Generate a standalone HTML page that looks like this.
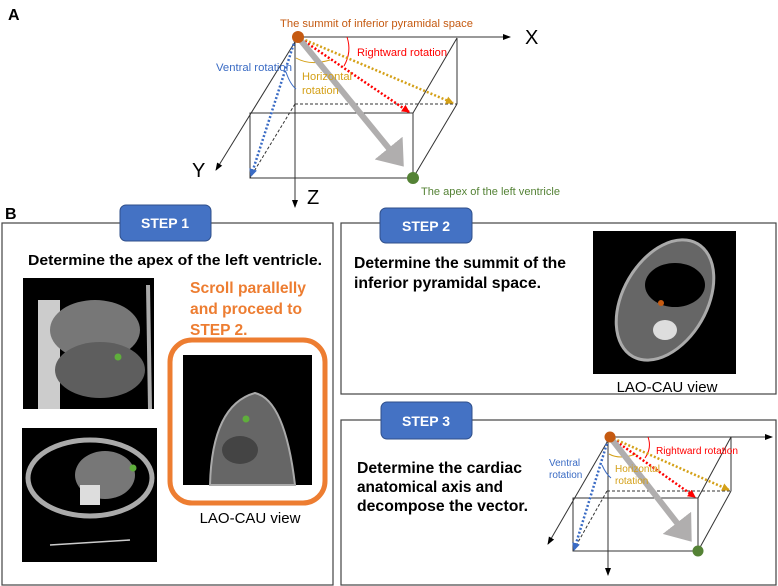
<!DOCTYPE html>
<html><head><meta charset="utf-8"><style>
html,body{margin:0;padding:0;background:#fff}
svg{display:block}
text{font-family:"Liberation Sans",Arial,sans-serif}
</style></head><body>
<svg width="778" height="586" viewBox="0 0 778 586" xmlns="http://www.w3.org/2000/svg">
<defs>
<marker id="ak" markerWidth="8" markerHeight="8" refX="7" refY="4" orient="auto" markerUnits="userSpaceOnUse"><path d="M0,1 L8,4 L0,7z" fill="#000"/></marker>
<marker id="ar" markerWidth="8" markerHeight="8" refX="7" refY="4" orient="auto" markerUnits="userSpaceOnUse"><path d="M0,0 L8,4 L0,8z" fill="#f00"/></marker>
<marker id="ag" markerWidth="8" markerHeight="8" refX="7" refY="4" orient="auto" markerUnits="userSpaceOnUse"><path d="M0,0 L8,4 L0,8z" fill="#d4a017"/></marker>
<marker id="ab" markerWidth="8" markerHeight="8" refX="7" refY="4" orient="auto" markerUnits="userSpaceOnUse"><path d="M0,0 L8,4 L0,8z" fill="#3a6bc4"/></marker>
<marker id="agr" markerWidth="6" markerHeight="6" refX="3" refY="3" orient="auto" markerUnits="strokeWidth"><path d="M0,0 L4,3 L0,6z" fill="#b0aeae"/></marker>
</defs>

<text x="8" y="20" font-size="16" font-weight="bold">A</text>
<text x="5" y="219" font-size="16" font-weight="bold">B</text>

<!-- Diagram A -->
<g stroke="#333" stroke-width="1" fill="none">
<line x1="298" y1="37" x2="510" y2="37" marker-end="url(#ak)"/>
<line x1="298" y1="37" x2="216" y2="170" marker-end="url(#ak)"/>
<line x1="295" y1="37" x2="295" y2="207" marker-end="url(#ak)"/>
<line x1="457" y1="38" x2="457" y2="104"/>
<line x1="457" y1="38" x2="413" y2="113"/>
<line x1="457" y1="104" x2="413" y2="178"/>
<line x1="295" y1="104" x2="457" y2="104" stroke-dasharray="3,2"/>
<line x1="295" y1="104" x2="250" y2="178" stroke-dasharray="3,2"/>
<rect x="250" y="113" width="163" height="65"/>
</g>
<text x="525" y="44" font-size="20">X</text>
<text x="192" y="177" font-size="20">Y</text>
<text x="307" y="204" font-size="20">Z</text>
<path d="M296,58 Q310,66 330,60" stroke="#d4a017" fill="none"/>
<path d="M347,37 Q352,52 344,66" stroke="#f00" fill="none"/>
<path d="M286,72 Q290,84 296,89" stroke="#3a6bc4" fill="none"/>
<line x1="298" y1="37" x2="453" y2="103" stroke="#d4a017" stroke-width="2.5" stroke-dasharray="2,2" marker-end="url(#ag)"/>
<line x1="298" y1="37" x2="409" y2="112" stroke="#f00" stroke-width="2.5" stroke-dasharray="2,2" marker-end="url(#ar)"/>
<line x1="295" y1="40" x2="251" y2="176" stroke="#3a6bc4" stroke-width="2.5" stroke-dasharray="2,2" marker-end="url(#ab)"/>
<line x1="298" y1="37" x2="400" y2="162" stroke="#b0aeae" stroke-width="6" marker-end="url(#agr)"/>
<circle cx="298" cy="37" r="6" fill="#c55a11"/>
<circle cx="413" cy="178" r="6" fill="#548235"/>
<text x="280" y="27" font-size="11" fill="#c55a11" textLength="193" lengthAdjust="spacingAndGlyphs">The summit of inferior pyramidal space</text>
<text x="357" y="56" font-size="11" fill="#f00" textLength="90" lengthAdjust="spacingAndGlyphs">Rightward rotation</text>
<text x="216" y="71" font-size="11" fill="#3a6bc4" textLength="76" lengthAdjust="spacingAndGlyphs">Ventral rotation</text>
<text x="302" y="80" font-size="11" fill="#d4a017" textLength="50" lengthAdjust="spacingAndGlyphs">Horizontal</text>
<text x="302" y="94" font-size="11" fill="#d4a017">rotation</text>
<text x="421" y="195" font-size="11" fill="#548235" textLength="139" lengthAdjust="spacingAndGlyphs">The apex of the left ventricle</text>

<!-- Panels -->
<rect x="2" y="223" width="331" height="362" fill="none" stroke="#444" stroke-width="1.2"/>
<rect x="341" y="223" width="435" height="171" fill="none" stroke="#444" stroke-width="1.2"/>
<rect x="341" y="420" width="435" height="165" fill="none" stroke="#444" stroke-width="1.2"/>

<g font-size="14" font-weight="bold" fill="#fff" text-anchor="middle">
<rect x="120" y="205" width="91" height="36" rx="6" fill="#4472c4" stroke="#2f4f8a"/>
<text x="165" y="228">STEP 1</text>
<rect x="380" y="208" width="92" height="35" rx="6" fill="#4472c4" stroke="#2f4f8a"/>
<text x="426" y="231">STEP 2</text>
<rect x="381" y="402" width="91" height="37" rx="6" fill="#4472c4" stroke="#2f4f8a"/>
<text x="426" y="426">STEP 3</text>
</g>

<text x="28" y="265" font-size="15" font-weight="bold" textLength="294" lengthAdjust="spacingAndGlyphs">Determine the apex of the left ventricle.</text>
<g font-size="15.5" font-weight="bold" fill="#ed7d31">
<text x="190" y="293" textLength="116" lengthAdjust="spacingAndGlyphs">Scroll parallelly</text>
<text x="190" y="314" textLength="112" lengthAdjust="spacingAndGlyphs">and proceed to</text>
<text x="190" y="335">STEP 2.</text>
</g>

<!-- CT images step1 -->
<rect x="23" y="278" width="131" height="131" fill="#000"/>
<rect x="38" y="300" width="22" height="109" fill="#ccc"/>
<ellipse cx="95" cy="330" rx="45" ry="30" fill="#777"/>
<ellipse cx="100" cy="370" rx="45" ry="28" fill="#5e5e5e"/>
<line x1="148" y1="285" x2="150" y2="409" stroke="#aaa" stroke-width="4"/>
<circle cx="118" cy="357" r="3.5" fill="#5fae3c"/>

<rect x="22" y="428" width="135" height="134" fill="#000"/>
<ellipse cx="90" cy="478" rx="62" ry="38" fill="none" stroke="#aaa" stroke-width="5"/>
<ellipse cx="105" cy="475" rx="30" ry="24" fill="#777"/>
<rect x="80" y="485" width="20" height="20" fill="#ddd"/>
<line x1="50" y1="545" x2="130" y2="540" stroke="#ccc" stroke-width="1.5"/>
<circle cx="133" cy="468" r="3.5" fill="#5fae3c"/>

<rect x="170" y="340" width="155" height="163" rx="22" fill="none" stroke="#ed7d31" stroke-width="5"/>
<rect x="183" y="355" width="129" height="130" fill="#000"/>
<path d="M210,485 Q212,405 255,393 Q285,400 295,485z" fill="#666" stroke="#aaa" stroke-width="2"/>
<ellipse cx="240" cy="450" rx="18" ry="14" fill="#444"/>
<circle cx="246" cy="419" r="3.5" fill="#5fae3c"/>
<text x="250" y="523" font-size="15" text-anchor="middle">LAO-CAU view</text>

<!-- Step 2 -->
<text x="354" y="268" font-size="15.5" font-weight="bold" textLength="212" lengthAdjust="spacingAndGlyphs">Determine the summit of the</text>
<text x="354" y="288" font-size="15.5" font-weight="bold" textLength="187" lengthAdjust="spacingAndGlyphs">inferior pyramidal space.</text>
<rect x="593" y="231" width="143" height="143" fill="#000"/>
<ellipse cx="665" cy="300" rx="42" ry="65" transform="rotate(30 665 300)" fill="#666" stroke="#aaa" stroke-width="3"/>
<ellipse cx="675" cy="285" rx="30" ry="22" fill="#000"/>
<ellipse cx="665" cy="330" rx="12" ry="10" fill="#ddd"/>
<circle cx="661" cy="303" r="3" fill="#c55a11"/>
<text x="667" y="392" font-size="15" text-anchor="middle">LAO-CAU view</text>

<!-- Step 3 -->
<g font-size="15.5" font-weight="bold">
<text x="357" y="473" textLength="165" lengthAdjust="spacingAndGlyphs">Determine the cardiac</text>
<text x="357" y="492" textLength="146" lengthAdjust="spacingAndGlyphs">anatomical axis and</text>
<text x="357" y="511" textLength="171" lengthAdjust="spacingAndGlyphs">decompose the vector.</text>
</g>
<g stroke="#333" stroke-width="1" fill="none">
<line x1="610" y1="437" x2="772" y2="437" marker-end="url(#ak)"/>
<line x1="610" y1="437" x2="548" y2="544" marker-end="url(#ak)"/>
<line x1="608" y1="437" x2="608" y2="575" marker-end="url(#ak)"/>
<line x1="731" y1="437" x2="731" y2="491"/>
<line x1="731" y1="437" x2="698" y2="498"/>
<line x1="731" y1="491" x2="698" y2="551"/>
<line x1="607" y1="491" x2="731" y2="491" stroke-dasharray="3,2"/>
<line x1="607" y1="491" x2="573" y2="551" stroke-dasharray="3,2"/>
<rect x="573" y="498" width="125" height="53"/>
</g>
<path d="M609,454 Q620,460 636,454" stroke="#d4a017" fill="none"/>
<path d="M648,437 Q652,448 645,458" stroke="#f00" fill="none"/>
<path d="M602,465 Q606,474 611,478" stroke="#3a6bc4" fill="none"/>
<line x1="610" y1="437" x2="729" y2="490" stroke="#d4a017" stroke-width="2.5" stroke-dasharray="2,2" marker-end="url(#ag)"/>
<line x1="610" y1="437" x2="695" y2="497" stroke="#f00" stroke-width="2.5" stroke-dasharray="2,2" marker-end="url(#ar)"/>
<line x1="608" y1="440" x2="574" y2="550" stroke="#3a6bc4" stroke-width="2.5" stroke-dasharray="2,2" marker-end="url(#ab)"/>
<line x1="610" y1="437" x2="688" y2="537" stroke="#b0aeae" stroke-width="6" marker-end="url(#agr)"/>
<circle cx="610" cy="437" r="5.5" fill="#c55a11"/>
<circle cx="698" cy="551" r="5.5" fill="#548235"/>
<text x="656" y="454" font-size="10" fill="#f00" textLength="82" lengthAdjust="spacingAndGlyphs">Rightward rotation</text>
<text x="549" y="466" font-size="10" fill="#3a6bc4">Ventral</text>
<text x="549" y="478" font-size="10" fill="#3a6bc4">rotation</text>
<text x="615" y="472" font-size="10" fill="#d4a017">Horizontal</text>
<text x="615" y="484" font-size="10" fill="#d4a017">rotation</text>
</svg>
</body></html>
